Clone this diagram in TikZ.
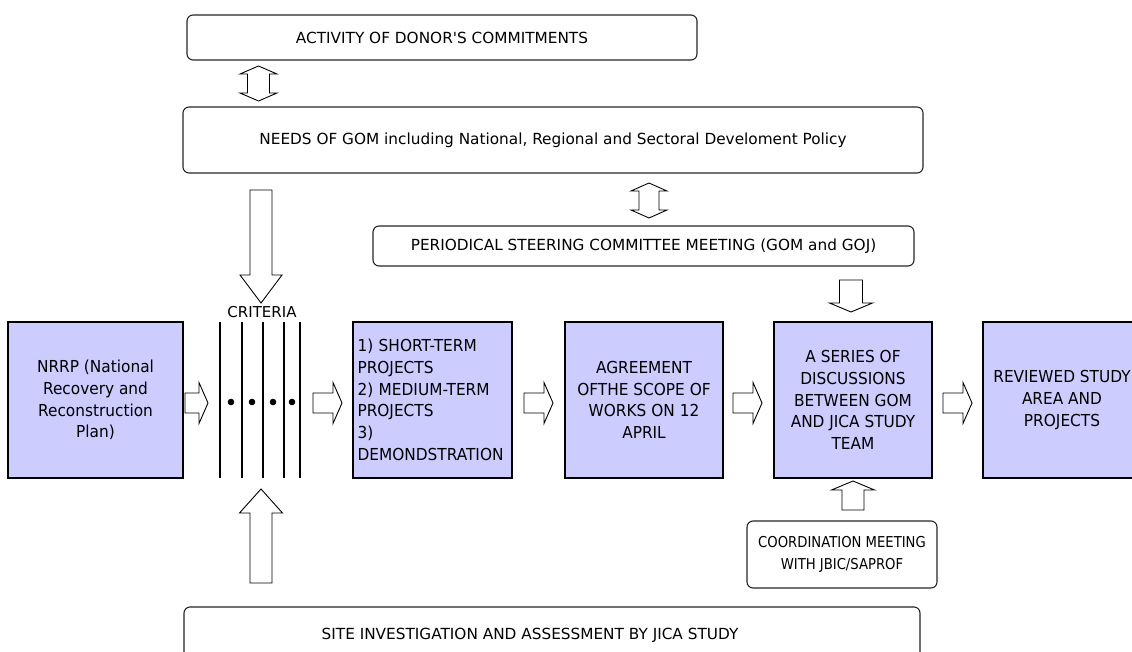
\documentclass[tikz,border=0pt]{standalone}
\usepackage{fontspec}
\setmainfont{DejaVu Sans}[FakeStretch=0.88]
\newfontfamily\widefont{DejaVu Sans}
\newfontfamily\boxfont{DejaVu Sans}[FakeStretch=0.93]
\usetikzlibrary{calc}
\definecolor{boxfill}{HTML}{CCCCFF}
\newcommand\barrow[5]{%
  \coordinate (bahead) at ($(#2)!#5!(#1)$);
  \draw[blockarrow] ($(#1)!#3!90:(#2)$) -- ($(bahead)!#3!-90:(#1)$) -- ($(bahead)!#4!-90:(#1)$) -- (#2)
    -- ($(bahead)!#4!90:(#1)$) -- ($(bahead)!#3!90:(#1)$) -- ($(#1)!#3!-90:(#2)$) -- cycle;
}
\newcommand\dbarrow[5]{%
  \coordinate (dbaA) at ($(#1)!#5!(#2)$);
  \coordinate (dbaB) at ($(#2)!#5!(#1)$);
  \draw[blockarrow] (#1) -- ($(dbaA)!#4!90:(#2)$) -- ($(dbaA)!#3!90:(#2)$) -- ($(dbaB)!#3!-90:(#1)$)
    -- ($(dbaB)!#4!-90:(#1)$) -- (#2) -- ($(dbaB)!#4!90:(#1)$) -- ($(dbaB)!#3!90:(#1)$)
    -- ($(dbaA)!#3!-90:(#2)$) -- ($(dbaA)!#4!-90:(#2)$) -- cycle;
}
\tikzset{
  blockarrow/.style={draw=black, line width=0.9pt, fill=white, line join=miter},
  roundbox/.style={draw=black!85, line width=1.1pt, rounded corners=6pt, fill=white, inner sep=0pt,
    align=center, font=\widefont\fontsize{15.3}{22}\selectfont},
  coordbox/.style={roundbox, font=\fontsize{15}{22}\selectfont},
  mainbox/.style={draw=black, line width=2.2pt, fill=boxfill, minimum height=156pt, inner sep=0pt,
    align=center, font=\boxfont\fontsize{16.5}{21.7}\selectfont},
  critline/.style={line width=2.6pt},
}
\begin{document}
\begin{tikzpicture}[x=1pt,y=-1pt]
\useasboundingbox (0,0) rectangle (1132,652);
\clip (0,0) rectangle (1132,652);
% top boxes
\node[roundbox, minimum width=510pt, minimum height=45pt] (act) at (442,37.5) {ACTIVITY OF DONOR'S COMMITMENTS};
\node[roundbox, minimum width=740pt, minimum height=66pt] (needs) at (553,140) {NEEDS OF GOM including National, Regional and Sectoral Develoment Policy};
\node[roundbox, minimum width=541pt, minimum height=40pt] (psc) at (643.5,246) {PERIODICAL STEERING COMMITTEE MEETING (GOM and GOJ)};
\node[roundbox, minimum width=736pt, minimum height=56pt] (site) at (552,635) {SITE INVESTIGATION AND ASSESSMENT BY JICA STUDY\hspace*{44pt}};
\node[coordbox, minimum width=190pt, minimum height=67pt] (coord) at (842,554.5) {COORDINATION MEETING\\WITH JBIC/SAPROF};
% main boxes
\node[mainbox, minimum width=175pt] (nrrp) at (95.5,400) {NRRP (National\\Recovery and\\Reconstruction\\Plan)};
\node[mainbox, minimum width=159pt, text width=150pt, align=left] (short) at (432.5,400) {1) SHORT-TERM\\PROJECTS\\2) MEDIUM-TERM\\PROJECTS\\3)\\DEMONDSTRATION};
\node[mainbox, minimum width=158pt] (agree) at (644,400) {AGREEMENT\\OFTHE SCOPE OF\\WORKS ON 12\\APRIL};
\node[mainbox, minimum width=158pt] (disc) at (853,400) {A SERIES OF\\DISCUSSIONS\\BETWEEN GOM\\AND JICA STUDY\\TEAM};
\node[mainbox, minimum width=158pt] (rev) at (1062,400) {REVIEWED STUDY\\AREA AND\\PROJECTS};
% criteria
\node[font=\widefont\fontsize{15}{16}\selectfont, inner sep=0pt] (crit) at (262,312) {CRITERIA};
\foreach \x in {220,242,263,284,300} \draw[critline] (\x,322) -- (\x,478);
\foreach \x in {231,252,273,292} \fill (\x,402) circle (3.3pt);
% arrow end points
\coordinate (d1s) at (258.5,66);  \coordinate (d1e) at (258.5,101);
\coordinate (d2s) at (649,183);   \coordinate (d2e) at (649,218);
\coordinate (v1s) at (261,190);   \coordinate (v1e) at (261,303);
\coordinate (v2s) at (261,583);   \coordinate (v2e) at (261,489);
\coordinate (v3s) at (851,280);   \coordinate (v3e) at (851,312);
\coordinate (v4s) at (853,510);   \coordinate (v4e) at (853,481);
\coordinate (h1s) at (185,403);   \coordinate (h1e) at (208,403);
\coordinate (h2s) at (313,403);   \coordinate (h2e) at (342,403);
\coordinate (h3s) at (524,403);   \coordinate (h3e) at (553,403);
\coordinate (h4s) at (733,403);   \coordinate (h4e) at (762,403);
\coordinate (h5s) at (943,403);   \coordinate (h5e) at (972,403);
% arrows
\dbarrow{d1s}{d1e}{11pt}{18.5pt}{8pt}
\dbarrow{d2s}{d2e}{10pt}{18pt}{8pt}
\barrow{v1s}{v1e}{11pt}{21pt}{28pt}
\barrow{v2s}{v2e}{11pt}{21.5pt}{24pt}
\barrow{v3s}{v3e}{11.5pt}{21.5pt}{9pt}
\barrow{v4s}{v4e}{11pt}{21.5pt}{9pt}
\barrow{h1s}{h1e}{10pt}{20.5pt}{9pt}
\barrow{h2s}{h2e}{10pt}{20.5pt}{9pt}
\barrow{h3s}{h3e}{10pt}{20.5pt}{9pt}
\barrow{h4s}{h4e}{10pt}{20.5pt}{9pt}
\barrow{h5s}{h5e}{10pt}{20.5pt}{9pt}
\end{tikzpicture}
\end{document}
